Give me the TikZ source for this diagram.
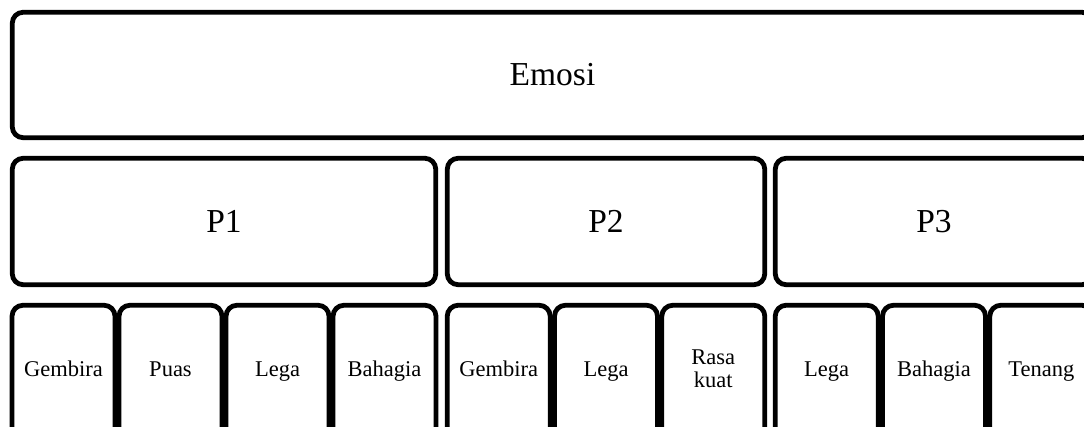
\documentclass[tikz,border=0pt]{standalone}
\usepackage{fontspec}
\setmainfont{Liberation Serif}
\begin{document}
\begin{tikzpicture}[x=1pt,y=-1pt,
  box/.style={draw=black,line width=4.8pt,rounded corners=11pt,fill=white,inner sep=0pt,outer sep=0pt},
  bigtext/.style={inner sep=0pt,font=\fontsize{33.5}{36}\selectfont},
  smalltext/.style={inner sep=0pt,align=center,font=\fontsize{22.5}{23}\selectfont},
  leaf/.style={box,minimum width=103pt,minimum height=180pt}]
\useasboundingbox (0,0) rectangle (1084,427);
\clip (0,0) rectangle (1084,427);
% top
\node[box,minimum width=1080.5pt,minimum height=125.5pt] (emosi) at (552.5,75) {};
\node[bigtext] (emosit) at (emosi.center) {Emosi};
% second row
\node[box,minimum width=423.5pt,minimum height=126.5pt] (p1) at (224,221.5) {};
\node[box,minimum width=317.5pt,minimum height=126.5pt] (p2) at (606,221.5) {};
\node[box,minimum width=317.5pt,minimum height=126.5pt] (p3) at (934,221.5) {};
\node[bigtext] (p1t) at (p1.center) {P1};
\node[bigtext] (p2t) at (p2.center) {P2};
\node[bigtext] (p3t) at (p3.center) {P3};
% third row
\node[leaf] (a1) at (63.5,395.25) {};
\node[leaf] (a2) at (170.5,395.25) {};
\node[leaf] (a3) at (277.5,395.25) {};
\node[leaf] (a4) at (384.5,395.25) {};
\node[leaf] (b1) at (498.7,395.25) {};
\node[leaf] (b2) at (606,395.25) {};
\node[leaf] (b3) at (713.3,395.25) {};
\node[leaf] (c1) at (826.7,395.25) {};
\node[leaf] (c2) at (934,395.25) {};
\node[leaf] (c3) at (1041.3,395.25) {};
\node[smalltext,anchor=base] (a1t) at (a1 |- 0,377) {Gembira};
\node[smalltext,anchor=base] (a2t) at (a2 |- 0,377) {Puas};
\node[smalltext,anchor=base] (a3t) at (a3 |- 0,377) {Lega};
\node[smalltext,anchor=base] (a4t) at (a4 |- 0,377) {Bahagia};
\node[smalltext,anchor=base] (b1t) at (b1 |- 0,377) {Gembira};
\node[smalltext,anchor=base] (b2t) at (b2 |- 0,377) {Lega};
\node[smalltext] (b3t) at (b3 |- 0,369) {Rasa\\kuat};
\node[smalltext,anchor=base] (c1t) at (c1 |- 0,377) {Lega};
\node[smalltext,anchor=base] (c2t) at (c2 |- 0,377) {Bahagia};
\node[smalltext,anchor=base] (c3t) at (c3 |- 0,377) {Tenang};
\end{tikzpicture}
\end{document}
